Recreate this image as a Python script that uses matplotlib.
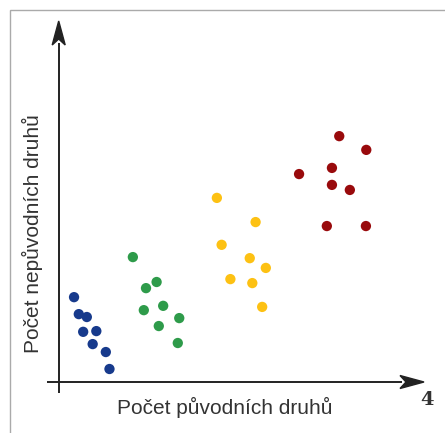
import numpy as np
import matplotlib
matplotlib.use('Agg')
import matplotlib.pyplot as plt
from matplotlib.patches import Polygon, Rectangle
from matplotlib.transforms import Affine2D

# four groups of sites: native species count vs. non-native species count
blue_x = [0.42, 0.55, 0.77, 0.67, 1.03, 0.93, 1.29, 1.39]
blue_y = [2.35, 1.88, 1.80, 1.39, 1.41, 1.05, 0.83, 0.36]
green_x = [2.03, 2.39, 2.68, 2.33, 2.86, 3.30, 2.74, 3.26]
green_y = [3.46, 2.60, 2.77, 1.99, 2.11, 1.77, 1.55, 1.08]
yellow_x = [4.33, 5.39, 4.46, 5.23, 5.67, 4.70, 5.30, 5.57]
yellow_y = [5.10, 4.43, 3.80, 3.43, 3.16, 2.85, 2.74, 2.08]
red_x = [7.68, 8.42, 6.58, 7.48, 7.48, 7.97, 7.34, 8.41]
red_y = [6.81, 6.43, 5.76, 5.93, 5.46, 5.32, 4.32, 4.32]

groups = [(blue_x, blue_y, '#173a8c'),
          (green_x, green_y, '#2e9b4a'),
          (yellow_x, yellow_y, '#fdc113'),
          (red_x, red_y, '#990a0c')]

W, H = 445, 433
fig = plt.figure(figsize=(W / 100, H / 100), dpi=100)
fig.patch.set_facecolor('white')

# gray frame round the figure
fig.add_artist(Rectangle((10 / W, -0.1), 1.2, 1 - 10 / H + 0.1, transform=fig.transFigure,
                         fill=False, edgecolor='#aaaaaa', linewidth=1.0))

x0, y0 = 58.7, 382
ax = fig.add_axes([x0 / W, (H - y0) / H, (424 - x0) / W, (y0 - 21) / H])
ax.set_xlim(0, 10)
ax.set_ylim(0, 10)
ax.axis('off')

for gx, gy, col in groups:
    ax.scatter(gx, gy, s=55, color=col, edgecolors='none', zorder=3)

# axis lines with a little overshoot past the origin
line_col = '#222222'
ax.plot([-0.33, 9.4], [0, 0], color=line_col, lw=1.4, clip_on=False, solid_capstyle='butt')
ax.plot([0, 0], [-0.3, 9.4], color=line_col, lw=1.4, clip_on=False, solid_capstyle='butt')

fig.canvas.draw()
# stealth arrowheads (pixel offsets from the tips)
head = np.array([[0, 0], [-24, 6.5], [-18, 0], [-24, -6.5]])
tip_x = ax.transAxes.transform((1, 0))
tip_y = ax.transAxes.transform((0, 1))
ax.add_patch(Polygon(head, closed=True, color=line_col, clip_on=False,
                     transform=Affine2D().translate(*tip_x)))
ax.add_patch(Polygon(head, closed=True, color=line_col, clip_on=False,
                     transform=Affine2D().rotate_deg(90).translate(*tip_y)))

fig.text(225 / W, 1 - 407 / H, 'Počet původních druhů', ha='center', va='center',
         fontsize=15, color='#333333', family='Liberation Sans')
fig.text(32 / W, 1 - 234 / H, 'Počet nepůvodních druhů', ha='center', va='center',
         rotation=90, fontsize=15, color='#333333', family='Liberation Sans')
fig.text(427 / W, 1 - 400 / H, '4', ha='center', va='center', fontsize=14,
         fontweight='bold', color='#333333', family='DejaVu Serif')

fig.savefig('out.png', dpi=100)
